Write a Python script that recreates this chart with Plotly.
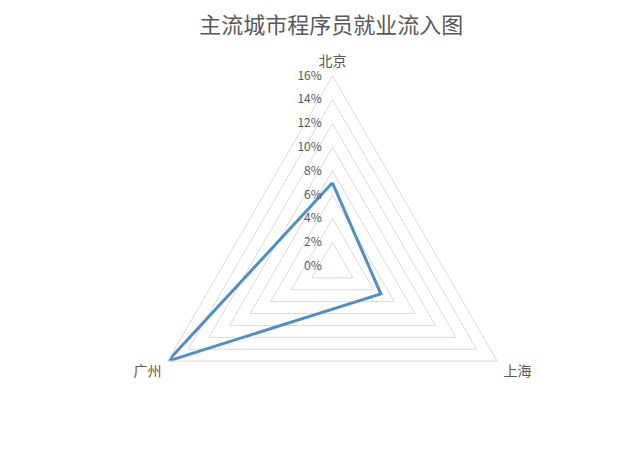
import plotly.graph_objects as go

cities = ['北京', '上海', '广州']
inflow = [7.0, 4.7, 16.0]   # %
tick_vals = [0, 2, 4, 6, 8, 10, 12, 14, 16]
tick_text = ['0%', '2%', '4%', '6%', '8%', '10%', '12%', '14%', '16%']

fig = go.Figure()
fig.add_trace(go.Scatterpolar(
    r=inflow + inflow[:1],
    theta=cities + cities[:1],
    mode='lines',
    line=dict(color='#4f8fc6', width=3),
    showlegend=False,
))

fig.update_layout(
    width=640, height=468,
    margin=dict(l=0, r=0, t=45, b=0),
    paper_bgcolor='white',
    font=dict(family='Noto Sans CJK SC', color='#595959'),
    title=dict(text='主流城市程序员就业流入图', x=0.505, y=1, xanchor='center', yanchor='top',
               pad=dict(t=10), font=dict(size=22, color='#595959')),
    polar=dict(
        domain=dict(x=[0.2098, 0.8042], y=[0.0468, 0.9461]),
        bgcolor='white',
        gridshape='linear',
        radialaxis=dict(range=[0, 16], tickvals=tick_vals, ticktext=tick_text,
                        angle=90, tickangle=90, side='counterclockwise',
                        showline=False, ticks='outside', ticklen=6, tickcolor='rgba(0,0,0,0)',
                        gridcolor='#d9d9d9', gridwidth=1,
                        tickfont=dict(size=12, color='#595959')),
        angularaxis=dict(rotation=90, direction='clockwise', showgrid=False,
                         linecolor='#d9d9d9', linewidth=1,
                         ticks='outside', ticklen=4, tickcolor='rgba(0,0,0,0)',
                         tickfont=dict(size=14, color='#595959')),
    ),
)

fig.write_html('out.html')
